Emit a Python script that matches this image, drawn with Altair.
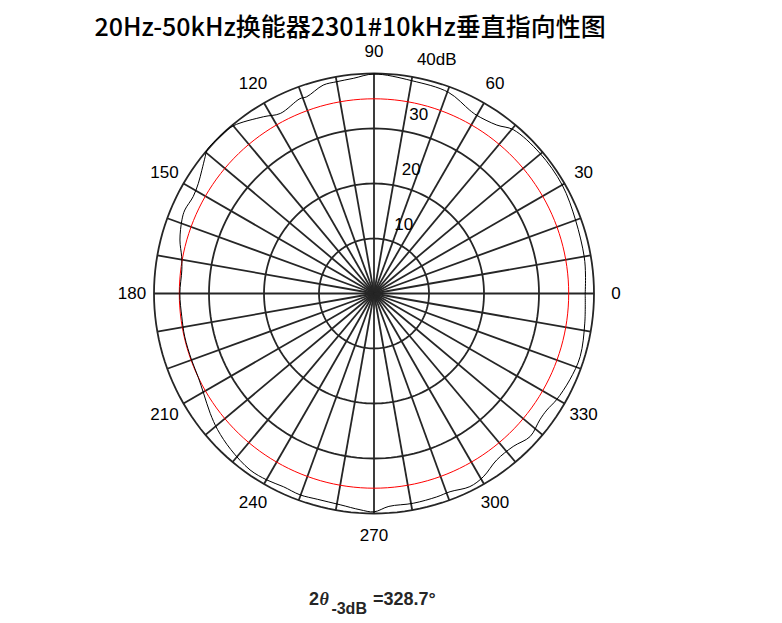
import numpy as np
import pandas as pd
import altair as alt

# ---- data ----
curve_angles = [0, 5, 10, 20, 30, 40.2, 49.6, 53.9, 60.1, 62.4, 69.7, 80, 90, 95.5, 100,
                103.7, 108.9, 110.8, 117.5, 122, 130, 133.9, 139.4, 141, 144.4, 147.9,
                151.8, 156.2, 159, 164.6, 169.2, 173, 180, 186.9, 192.9, 200, 205.6,
                210.3, 216.2, 221, 227.4, 234.9, 240.1, 244.9, 249.8, 254.7, 260.9,
                266.3, 270, 274, 280.6, 287.1, 291, 296.4, 300.8, 306.4, 312.3, 317.5,
                322.7, 326, 329.8, 336.2, 343, 352, 360]
curve_db = [38.4, 38.6, 38.8, 39.0, 39.5, 39.5, 39.1, 37.9, 37.4, 37.6, 39.0, 39.3, 39.9,
            39.3, 39.1, 39.0, 37.8, 37.9, 36.9, 37.9, 39.8, 40.0, 40.0, 39.5, 38.5, 37.7,
            37.3, 37.6, 37.4, 36.6, 35.6, 35.2, 35.3, 35.2, 35.3, 35.3, 35.4, 35.9, 36.9,
            37.7, 38.5, 39.2, 39.1, 38.8, 39.0, 38.8, 38.9, 39.4, 39.7, 38.8, 38.8, 38.7,
            38.6, 39.2, 38.8, 37.6, 37.6, 38.5, 37.9, 37.9, 38.4, 38.9, 39.2, 38.7, 38.4]
ring_levels = [10, 20, 30, 40]
ring_labels = ["10", "20", "30", "40dB"]
spoke_angles = list(range(0, 360, 10))
angle_ticks = list(range(0, 360, 30))
minus3db_level = 35.4
title_text = "20Hz-50kHz换能器2301#10kHz垂直指向性图"
beam_text = "=328.7°"

R = 40
xs = alt.Scale(domain=[-R, R], nice=False, zero=False)
ys = alt.Scale(domain=[-R, R], nice=False, zero=False)
X = lambda f: alt.X(f, type="quantitative", scale=xs, axis=None)
Y = lambda f: alt.Y(f, type="quantitative", scale=ys, axis=None)

# rings
phi = np.arange(0, 361, 2)
rows = []
for lv in ring_levels:
    for i, p in enumerate(phi):
        rows.append({"ring": lv, "i": i, "x": lv * np.cos(np.radians(p)), "y": lv * np.sin(np.radians(p))})
rings = pd.DataFrame(rows)
red = pd.DataFrame({"i": range(len(phi)),
                    "x": minus3db_level * np.cos(np.radians(phi)),
                    "y": minus3db_level * np.sin(np.radians(phi))})
spokes = pd.DataFrame({"a": spoke_angles})
spokes["x"] = 0.0
spokes["y"] = 0.0
spokes["x2"] = R * np.cos(np.radians(spokes["a"]))
spokes["y2"] = R * np.sin(np.radians(spokes["a"]))

curve = pd.DataFrame({"a": curve_angles, "db": curve_db})
curve["i"] = range(len(curve))
curve["x"] = curve["db"] * np.cos(np.radians(curve["a"]))
curve["y"] = curve["db"] * np.sin(np.radians(curve["a"]))

tick_df = pd.DataFrame({"a": angle_ticks, "t": [str(a) for a in angle_ticks]})
tick_df["x"] = 44 * np.cos(np.radians(tick_df["a"]))
tick_df["y"] = 44 * np.sin(np.radians(tick_df["a"]))

rl = pd.DataFrame({"v": ring_levels, "t": ring_labels})
rl["x"] = 2.3 + 0.1375 * rl["v"]
rl["y"] = rl["v"] + 2.45

grid_color = "#262626"
ring_layer = alt.Chart(rings).mark_line(color=grid_color, strokeWidth=1.8).encode(
    x=X("x"), y=Y("y"), detail="ring:N", order="i:Q")
spoke_layer = alt.Chart(spokes).mark_rule(color=grid_color, strokeWidth=1.8).encode(
    x=X("x"), y=Y("y"), x2="x2:Q", y2="y2:Q")
red_layer = alt.Chart(red).mark_line(color="#ff0000", strokeWidth=1).encode(
    x=X("x"), y=Y("y"), order="i:Q")
curve_layer = alt.Chart(curve).mark_line(color="#000000", strokeWidth=1,
                                         interpolate="catmull-rom").encode(
    x=X("x"), y=Y("y"), order="i:Q")
tick_layer = alt.Chart(tick_df).mark_text(fontSize=17, font="Liberation Sans", color="#000000",
                                          align="center", baseline="middle").encode(
    x=X("x"), y=Y("y"), text="t:N")
rl_layer = alt.Chart(rl).mark_text(fontSize=17, font="Liberation Sans", color="#000000",
                                   align="left", baseline="middle").encode(
    x=X("x"), y=Y("y"), text="t:N")

title_df = pd.DataFrame({"t": [title_text], "x": [-4.36], "y": [48.2]})
title_layer = alt.Chart(title_df).mark_text(fontSize=25, font="Noto Sans CJK SC", fontWeight=500,
                                            color="#000000", align="center", baseline="middle").encode(
    x=X("x"), y=Y("y"), text="t:N")

ann = pd.DataFrame({
    "t": ["2", "θ", "-3dB", beam_text],
    "x": [-11.82, -9.9, -7.75, -0.2],
    "y": [-55.8, -55.8, -57.3, -55.8],
    "s": ["n", "i", "sub", "n"],
})
ann_main = alt.Chart(ann[ann.s == "n"]).mark_text(fontSize=18, font="Liberation Sans", fontWeight="bold",
                                                 color="#262626", align="left", baseline="middle").encode(
    x=X("x"), y=Y("y"), text="t:N")
ann_it = alt.Chart(ann[ann.s == "i"]).mark_text(fontSize=18, font="Liberation Serif", fontWeight="bold",
                                               fontStyle="italic", color="#262626", align="left",
                                               baseline="middle").encode(
    x=X("x"), y=Y("y"), text="t:N")
ann_sub = alt.Chart(ann[ann.s == "sub"]).mark_text(fontSize=16, font="Liberation Sans", fontWeight="bold",
                                                  color="#262626", align="left", baseline="middle").encode(
    x=X("x"), y=Y("y"), text="t:N")

chart = alt.layer(ring_layer, spoke_layer, red_layer, curve_layer, tick_layer, rl_layer,
                  title_layer, ann_main, ann_it, ann_sub).properties(
    width=440, height=440,
    autosize=alt.AutoSizeParams(type="none"),
    padding={"left": 146, "top": 65.5, "right": 180, "bottom": 120},
).configure_view(strokeWidth=0, stroke=None)

chart.save("out.html", embed_options={"renderer": "svg", "actions": False})
